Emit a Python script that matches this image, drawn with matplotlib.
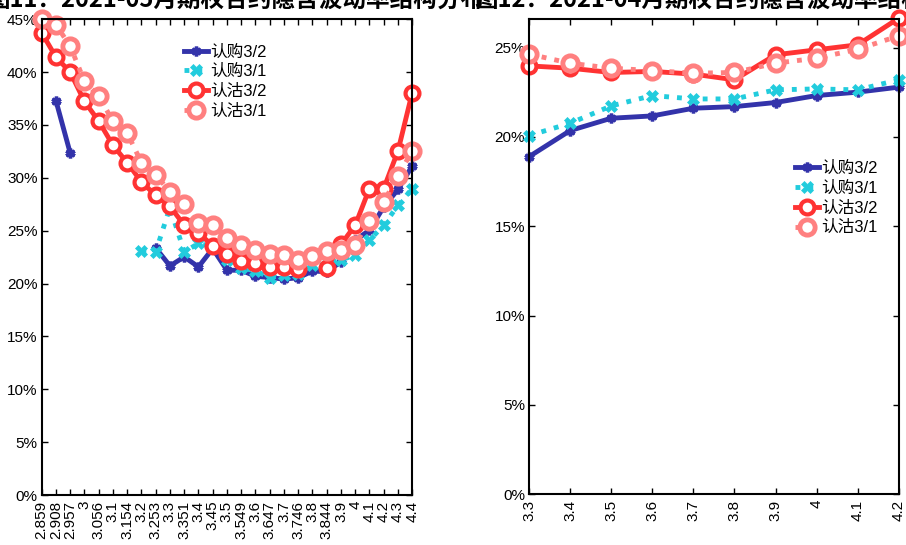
import matplotlib.pyplot as plt
import matplotlib.ticker as mticker
import numpy as np

plt.rcParams['font.family'] = ['Liberation Sans', 'Noto Sans CJK SC', 'DejaVu Sans']

nan = np.nan

# 图11: 2021-05 contracts
strikes_may = ['2.859', '2.908', '2.957', '3', '3.056', '3.1', '3.154', '3.2', '3.253',
               '3.3', '3.351', '3.4', '3.45', '3.5', '3.549', '3.6', '3.647', '3.7',
               '3.746', '3.8', '3.844', '3.9', '4', '4.1', '4.2', '4.3', '4.4']
call_0302_may = [nan, 0.373, 0.3235, nan, nan, nan, nan, nan, 0.2337,
                 0.2167, 0.2252, 0.2158, 0.2331, 0.2126, 0.2126, 0.2069, 0.2057, 0.2042,
                 0.2055, 0.2118, 0.2112, 0.2205, 0.241, 0.2505, 0.2725, 0.289, 0.3113]
call_0301_may = [nan, nan, nan, nan, nan, nan, nan, 0.2306, 0.2300,
                 0.272, 0.2300, 0.2379, 0.2350, 0.2220, 0.2150, 0.2120, 0.2057, 0.2080,
                 0.2090, 0.2174, 0.2180, 0.2225, 0.2268, 0.2410, 0.2552, 0.2740, 0.2899]
put_0302_may = [0.4373, 0.4142, 0.400, 0.3723, 0.3537, 0.3308, 0.3144, 0.2961, 0.2835,
                0.2731, 0.2552, 0.2482, 0.2356, 0.2278, 0.2211, 0.2199, 0.2158, 0.2158,
                0.2142, nan, 0.2150, 0.2370, 0.2552, 0.2899, 0.2899, 0.3254, 0.3806]
put_0301_may = [0.4505, 0.4448, 0.4246, 0.3913, 0.3771, 0.3537, 0.3424, 0.3144, 0.3031,
                0.2866, 0.2750, 0.2573, 0.2558, 0.2435, 0.2369, 0.2322, 0.2278, 0.2268,
                0.2227, 0.2259, 0.2309, 0.2322, 0.2369, 0.2592, 0.2772, 0.3019, 0.3254]

# 图12: 2021-04 contracts
strikes_apr = ['3.3', '3.4', '3.5', '3.6', '3.7', '3.8', '3.9', '4', '4.1', '4.2']
call_0302_apr = [0.1890, 0.2036, 0.2105, 0.2118, 0.2161, 0.2170, 0.2193, 0.2232, 0.2251, 0.2279]
call_0301_apr = [0.2008, 0.2077, 0.2174, 0.2232, 0.2213, 0.2213, 0.2264, 0.2269, 0.2264, 0.2320]
put_0302_apr = [0.2398, 0.2385, 0.2361, 0.2367, 0.2352, 0.2320, 0.2460, 0.2488, 0.2516, 0.2665]
put_0301_apr = [0.2464, 0.2413, 0.2385, 0.2372, 0.2357, 0.2361, 0.2413, 0.2441, 0.2491, 0.2566]

labels = ['认购3/2', '认购3/1', '认沽3/2', '认沽3/1']
styles = [
    dict(color='#3333aa', ls='-', lw=3.5, marker=(6, 2, 0), ms=7, mew=2.5),
    dict(color='#22ccdd', ls=':', lw=3.5, marker='X', ms=9, mew=0.5),
    dict(color='#ff3333', ls='-', lw=3.5, marker='o', ms=10, mew=3, mfc='white'),
    dict(color='#ff8080', ls=':', lw=3.5, marker='o', ms=11, mew=3.5, mfc='white'),
]


def draw_panel(ax, strikes, series, ymax, ystep, legend_anchor):
    x = np.arange(len(strikes))
    for vals, lab, st in zip(series, labels, styles):
        ax.plot(x, vals, label=lab, clip_on=False, **st)
    ax.set_xlim(0, len(strikes) - 1)
    ax.set_ylim(0, ymax)
    ax.set_xticks(x)
    ax.set_xticklabels(strikes, rotation=90, fontsize=11)
    ax.yaxis.set_major_locator(mticker.MultipleLocator(ystep))
    ax.yaxis.set_major_formatter(mticker.PercentFormatter(1.0, decimals=0))
    ax.tick_params(direction='in', length=4, width=1, top=True, right=True,
                   labelsize=11, pad=3)
    ax.tick_params(axis='x', pad=4)
    for sp in ax.spines.values():
        sp.set_linewidth(1.5)
    ax.legend(loc='upper left', bbox_to_anchor=legend_anchor, frameon=False,
              handlelength=1.4, handletextpad=0.15,
              labelspacing=0.28, borderpad=0, borderaxespad=0,
              prop={'family': ['Liberation Sans', 'Noto Sans CJK SC'], 'size': 12})


fig = plt.figure(figsize=(9.06, 5.45), dpi=100)
ax1 = fig.add_axes([0.046, 0.0917, 0.409, 0.873])
ax2 = fig.add_axes([0.584, 0.093, 0.408, 0.872])

draw_panel(ax1, strikes_may, [call_0302_may, call_0301_may, put_0302_may, put_0301_may],
           0.45, 0.05, (0.385, 0.947))
draw_panel(ax2, strikes_apr, [call_0302_apr, call_0301_apr, put_0302_apr, put_0301_apr],
           0.266, 0.05, (0.72, 0.701))

title_font = dict(family=['Noto Sans CJK SC', 'DejaVu Sans'], fontweight='black', fontsize=17)
fig.text(-14 / 906, 1 - 7 / 545, '图11：2021-05月期权合约隐含波动率结构分布', va='baseline', **title_font)
fig.text(474 / 906, 1 - 7 / 545, '图12：2021-04月期权合约隐含波动率结构分布', va='baseline', **title_font)

fig.savefig('out.png', dpi=100)
